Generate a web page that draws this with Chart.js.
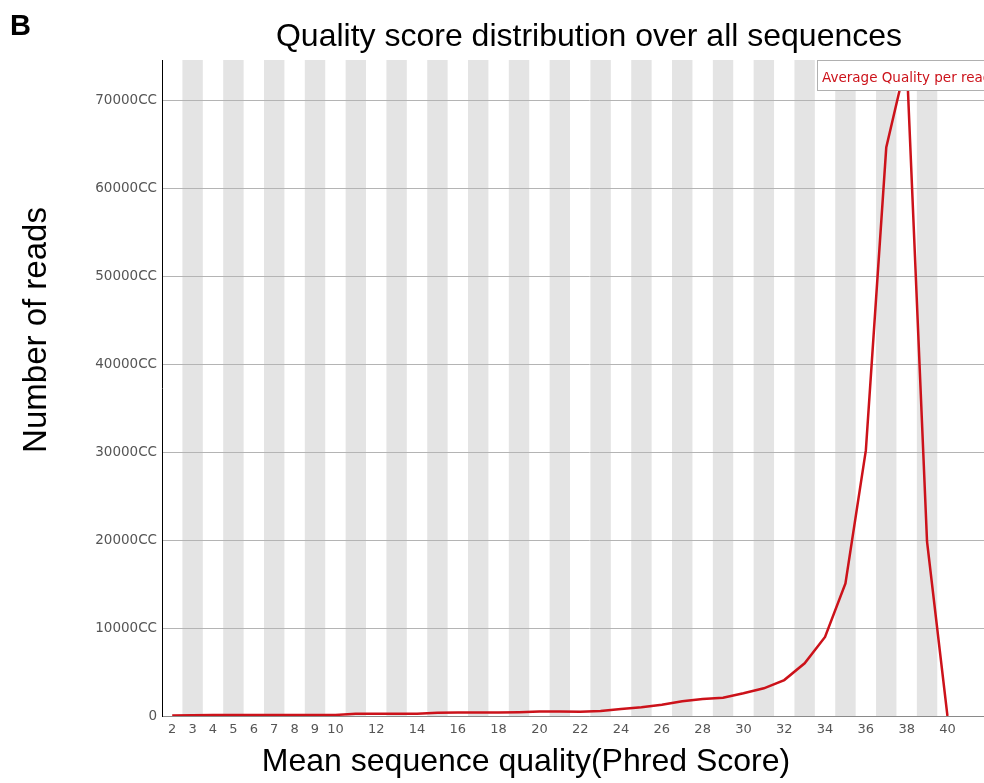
<!DOCTYPE html>
<html>
<head>
<meta charset="utf-8">
<title>Quality score distribution</title>
<script src="https://cdn.jsdelivr.net/npm/chart.js@4.4.1/dist/chart.umd.min.js"></script>
<style>
  html, body { margin: 0; padding: 0; background: #fff; overflow: hidden; }
  #wrap { position: relative; width: 984px; height: 783px; overflow: hidden; }
  #grafica { position: absolute; left: 0; top: 0; }
  #panel { position: absolute; left: 10px; top: 9px; line-height: 1;
           font: bold 29px "Liberation Sans", Arial, sans-serif; color: #000; }
</style>
</head>
<body>
<div id="wrap">
  <canvas id="grafica" width="1052" height="783"></canvas>
  <div id="panel">B</div>
</div>
<script>
// ── DATOS ───────────────────────────────────────────────
// calidad media (Phred) y número de lecturas por valor
const puntuacion = [2, 3, 4, 5, 6, 7, 8, 9, 10, 11, 12, 13, 14, 15, 16, 17, 18, 19, 20, 21,
                    22, 23, 24, 25, 26, 27, 28, 29, 30, 31, 32, 33, 34, 35, 36, 37, 38, 39, 40];
const lecturas   = [60, 90, 100, 100, 110, 110, 110, 110, 120, 250, 260, 260, 270, 380, 390, 390, 390, 420, 500, 510,
                    470, 570, 800, 990, 1290, 1670, 1930, 2080, 2580, 3150, 4090, 6000, 9000, 15080, 30230, 64700, 74665, 19840, 0];

const ticksX = [2, 3, 4, 5, 6, 7, 8, 9, 10, 12, 14, 16, 18, 20, 22, 24, 26, 28, 30, 32, 34, 36, 38, 40];
const ticksY = [0, 10000, 20000, 30000, 40000, 50000, 60000, 70000];
const etiquetasY = ["0", "10000CC", "20000CC", "30000CC", "40000CC", "50000CC", "60000CC", "70000CC"];

const serie = "Average Quality per read";
const titulo = "Quality score distribution over all sequences";
const tituloX = "Mean sequence quality(Phred Score)";
const tituloY = "Number of reads";

const ROJO = "#cc121a";
const FUENTE_TITULOS = '"Liberation Sans", Arial, sans-serif';
const FUENTE_TICKS = '"DejaVu Sans", Verdana, sans-serif';

// ── PLUGINS ─────────────────────────────────────────────
// franjas grises alternas detrás de la gráfica
const franjas = {
  id: "franjas",
  beforeDraw(chart, args, opts) {
    const { ctx, chartArea: a, scales: { x } } = chart;
    ctx.save();
    ctx.fillStyle = opts.color;
    opts.centros.forEach(c => {
      const x0 = x.getPixelForValue(c - 0.5);
      const x1 = x.getPixelForValue(c + 0.5);
      ctx.fillRect(x0, a.top, x1 - x0, a.bottom - a.top);
    });
    ctx.restore();
  }
};

// caja de leyenda arriba a la derecha, encima de la línea
const leyendaCaja = {
  id: "leyendaCaja",
  afterDatasetsDraw(chart, args, opts) {
    const { ctx, chartArea: a } = chart;
    const ds = chart.data.datasets[0];
    ctx.save();
    ctx.font = opts.font;
    const w = ctx.measureText(ds.label).width + 2 * opts.pad;
    const x0 = opts.left, y0 = a.top, h = opts.height;
    ctx.fillStyle = "#fff";
    ctx.fillRect(x0, y0, w, h);
    ctx.strokeStyle = opts.borderColor;
    ctx.lineWidth = 1;
    ctx.strokeRect(x0 + 0.5, y0 + 0.5, w, h);
    ctx.fillStyle = ds.borderColor;
    ctx.textBaseline = "middle";
    ctx.fillText(ds.label, x0 + opts.pad, y0 + h / 2 + 3);
    ctx.restore();
  }
};

// títulos de ejes con posición libre
const titulosEjes = {
  id: "titulosEjes",
  afterDraw(chart, args, opts) {
    const ctx = chart.ctx;
    ctx.save();
    ctx.fillStyle = opts.color;
    ctx.font = opts.font;
    ctx.textAlign = "center";
    ctx.textBaseline = "middle";
    ctx.fillText(opts.x.text, opts.x.cx, opts.x.cy);
    ctx.translate(opts.y.cx, opts.y.cy);
    ctx.rotate(-Math.PI / 2);
    ctx.font = opts.fontY;
    ctx.fillText(opts.y.text, 0, 0);
    ctx.restore();
  }
};

// ── GRÁFICA ─────────────────────────────────────────────
new Chart(document.getElementById("grafica"), {
  type: "line",
  data: {
    datasets: [{
      label: serie,
      data: puntuacion.map((q, i) => ({ x: q, y: lecturas[i] })),
      borderColor: ROJO,
      borderWidth: 2.5,
      pointRadius: 0,
      tension: 0,
      fill: false
    }]
  },
  options: {
    responsive: false,
    animation: false,
    events: [],
    layout: { padding: { left: 0, right: 36, top: 0, bottom: 0 } },
    plugins: {
      legend: { display: false },
      tooltip: { enabled: false },
      title: {
        display: true,
        text: titulo,
        fullSize: false,
        color: "#000",
        font: { family: FUENTE_TITULOS, size: 32, weight: "normal" },
        padding: { top: 17.8, bottom: 3.8 }
      },
      franjas: { color: "#e4e4e4", centros: puntuacion.filter(q => q % 2 === 1) },
      leyendaCaja: { font: "13.5px " + FUENTE_TICKS, pad: 5, left: 817, height: 30, borderColor: "#b0b0b0" },
      titulosEjes: {
        color: "#000",
        font: "32px " + FUENTE_TITULOS,
        fontY: "33px " + FUENTE_TITULOS,
        x: { text: tituloX, cx: 526, cy: 762 },
        y: { text: tituloY, cx: 37, cy: 330 }
      }
    },
    scales: {
      x: {
        type: "linear",
        min: 1.5,
        max: 43.36,
        afterBuildTicks: s => { s.ticks = ticksX.map(v => ({ value: v })); },
        afterFit: s => { s.height = 67; },
        grid: { display: false, drawTicks: false },
        border: { display: true, color: "#8a8a8a", width: 1 },
        ticks: {
          autoSkip: false, maxRotation: 0, padding: 6,
          color: "#555", font: { family: FUENTE_TICKS, size: 13 }
        }
      },
      y: {
        min: 0,
        max: Math.max(...lecturas),
        afterBuildTicks: s => { s.ticks = ticksY.map(v => ({ value: v })); },
        afterFit: s => { s.width = 162; },
        grid: { color: "#b4b4b4", lineWidth: 1, drawTicks: false },
        border: { display: true, color: "#000", width: 1 },
        ticks: {
          padding: 5,
          color: "#555",
          font: { family: FUENTE_TICKS, size: 13.5 },
          callback: v => etiquetasY[ticksY.indexOf(v)]
        }
      }
    }
  },
  plugins: [franjas, leyendaCaja, titulosEjes]
});
</script>
</body>
</html>
